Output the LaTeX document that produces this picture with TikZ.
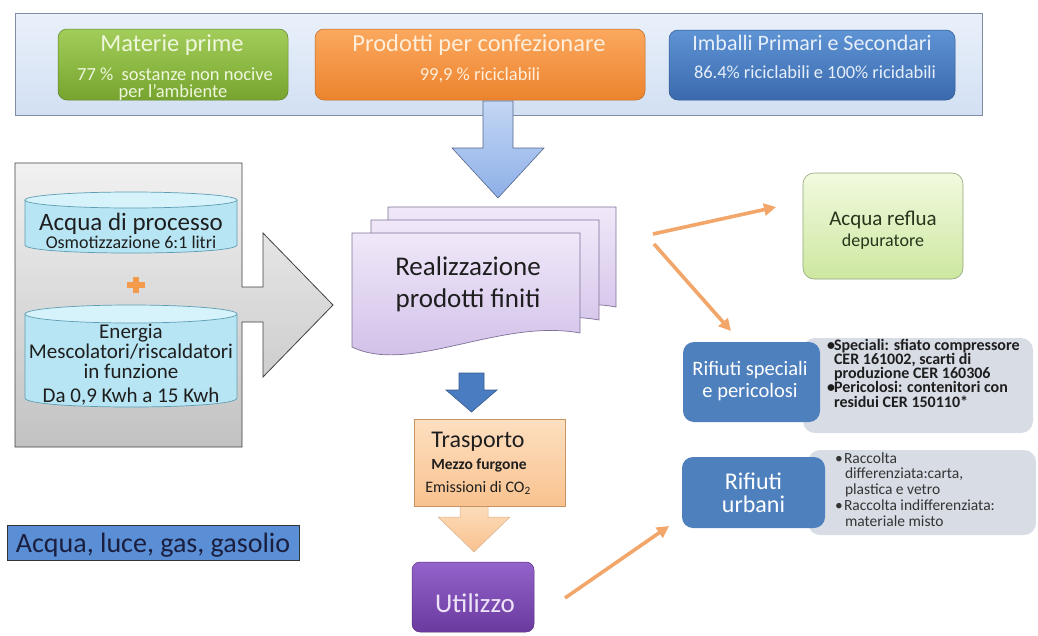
\documentclass[tikz,border=0pt]{standalone}
\usepackage{fontspec}
\setmainfont{Carlito}
\usetikzlibrary{arrows.meta}
\newcommand\fsz[1]{\fontsize{#1}{#1}\selectfont}

\definecolor{panelTop}{HTML}{E9F0FA}
\definecolor{panelBot}{HTML}{D2E0F3}
\definecolor{panelLine}{HTML}{7F8DA3}
\definecolor{grnTop}{HTML}{A3CD5A}
\definecolor{grnBot}{HTML}{76A42F}
\definecolor{grnText}{HTML}{EEF7DC}
\definecolor{orgTop}{HTML}{FBA85E}
\definecolor{orgBot}{HTML}{EC832E}
\definecolor{orgText}{HTML}{FFEEDA}
\definecolor{bluTop}{HTML}{5E93D4}
\definecolor{bluBot}{HTML}{3A6AAD}
\definecolor{bluText}{HTML}{E6EFFA}
\definecolor{arrTop}{HTML}{C4D7F5}
\definecolor{arrBot}{HTML}{8DAFE7}
\definecolor{arrLine}{HTML}{55678A}
\definecolor{greyTop}{HTML}{F1F1F1}
\definecolor{greyBot}{HTML}{C2C2C2}
\definecolor{cylBody}{HTML}{B8E5F3}
\definecolor{cylTop}{HTML}{D6F2FA}
\definecolor{cylLine}{HTML}{5E9DB3}
\definecolor{plusCol}{HTML}{F39A4C}
\definecolor{docTop}{HTML}{F0E8F9}
\definecolor{docBot}{HTML}{CDBBE6}
\definecolor{docLine}{HTML}{7E7097}
\definecolor{darkBlue}{HTML}{4A7CC1}
\definecolor{darkBlueLine}{HTML}{375C8C}
\definecolor{peachTop}{HTML}{FDDFC0}
\definecolor{peachBot}{HTML}{F9C28F}
\definecolor{peachLine}{HTML}{C69361}
\definecolor{violTop}{HTML}{9463CB}
\definecolor{violBot}{HTML}{6B3A9F}
\definecolor{violText}{HTML}{EDE3F7}
\definecolor{lgTop}{HTML}{F2FADF}
\definecolor{lgBot}{HTML}{CDE7A0}
\definecolor{lgLine}{HTML}{8FA477}
\definecolor{lgText}{HTML}{26361C}
\definecolor{wasteBlue}{HTML}{4E80BE}
\definecolor{wasteGrey}{HTML}{D7DCE5}
\definecolor{connCol}{HTML}{F2A66A}
\definecolor{tagBlue}{HTML}{5A8ED5}
\definecolor{tagText}{HTML}{1B1F3F}
\definecolor{inkCol}{HTML}{1E1E1E}

\begin{document}
\begin{tikzpicture}[x=1pt,y=-1pt,
  txt/.style={inner sep=0pt, outer sep=0pt, anchor=base},
  lefttxt/.style={inner sep=0pt, outer sep=0pt, anchor=base west},
  boxbase/.style={inner sep=0pt, outer sep=0pt},
  panel/.style={boxbase, draw=panelLine, line width=0.8pt, top color=panelTop, bottom color=panelBot},
  greentile/.style={boxbase, rounded corners=9pt, draw=grnBot!80!black, line width=0.5pt, top color=grnTop, bottom color=grnBot},
  orangetile/.style={boxbase, rounded corners=9pt, draw=orgBot!80!black, line width=0.5pt, top color=orgTop, bottom color=orgBot},
  bluetile/.style={boxbase, rounded corners=9pt, draw=bluBot!80!black, line width=0.5pt, top color=bluTop, bottom color=bluBot},
  blockarrow/.style={draw=arrLine, line width=0.6pt, top color=arrTop, bottom color=arrBot},
  greyshape/.style={draw=black!75, line width=0.8pt, top color=greyTop, bottom color=greyBot},
  cylfill/.style={fill=cylBody},
  cyledge/.style={draw=cylLine, line width=0.7pt},
  docsheet/.style={draw=docLine, line width=0.7pt, top color=docTop, bottom color=docBot},
  transbox/.style={boxbase, draw=peachLine, line width=0.6pt, top color=peachTop, bottom color=peachBot},
  usebox/.style={boxbase, rounded corners=8pt, draw=violBot!80!black, line width=0.5pt, top color=violTop, bottom color=violBot},
  wastebox/.style={boxbase, rounded corners=11pt, draw=lgLine, line width=0.6pt, top color=lgTop, bottom color=lgBot},
  wasteblue/.style={boxbase, rounded corners=11pt, fill=wasteBlue},
  wastegrey/.style={boxbase, rounded corners=12pt, fill=wasteGrey},
  tagbox/.style={boxbase, draw=black!80, line width=0.8pt, fill=tagBlue},
  conn/.style={draw=connCol, line width=3.6pt, -{Triangle[length=12pt,width=12pt]}}
]
\useasboundingbox (0,0) rectangle (1038,635);

% ---- supplies panel ----
\node[panel, minimum width=967pt, minimum height=102pt] (panel) at (498.5,64) {};

% big arrow from the supplies down to production
\path[blockarrow] (483,101) -- (513,101) -- (513,148) -- (544,148) -- (498,198)
  -- (452,148) -- (483,148) -- cycle;

\node[greentile, minimum width=230pt, minimum height=71pt] (materie) at (173,64.5) {};
\node[txt, text=grnText, font=\fsz{24.5}] (materieA) at (172,51) {Materie prime};
\node[txt, text=grnText, font=\fsz{18.5}] (materieB) at (175,80) {77 \%\ \ sostanze non nocive};
\node[txt, text=grnText, font=\fsz{18.5}] (materieC) at (173,97) {per l’ambiente};

\node[orangetile, minimum width=330pt, minimum height=71pt] (prodotti) at (480,64.5) {};
\node[txt, text=orgText, font=\fsz{24.5}] (prodottiA) at (479,51) {Prodotti per confezionare};
\node[txt, text=orgText, font=\fsz{18.5}] (prodottiB) at (480,80) {99,9 \% riciclabili};

\node[bluetile, minimum width=286pt, minimum height=70pt] (imballi) at (812,65) {};
\node[txt, text=bluText, font=\fsz{22}] (imballiA) at (812,50) {Imballi Primari e Secondari};
\node[txt, text=bluText, font=\fsz{18.4}] (imballiB) at (815,78.5) {86.4\% riciclabili e 100\% ricidabili};

% ---- resources block with its arrow ----
\path[greyshape] (15,163) -- (242,163) -- (242,287) -- (263,287) -- (263,233)
  -- (333,305) -- (263,377) -- (263,322) -- (242,322) -- (242,447) -- (15,447) -- cycle;

% process water cylinder
\fill[cylfill] (25,200) -- (25,245) .. controls (25,255.7) and (237,255.7) .. (237,245) -- (237,200) -- cycle;
\draw[cyledge] (25,200) -- (25,245) .. controls (25,255.7) and (237,255.7) .. (237,245) -- (237,200);
\filldraw[cyledge, fill=cylTop] (131,200) ellipse [x radius=106, y radius=8];
\node[txt, text=inkCol, font=\fsz{25}] (acquaA) at (131,230) {Acqua di processo};
\node[txt, text=inkCol, font=\fsz{18}] (acquaB) at (131,248) {Osmotizzazione 6:1 litri};

% plus sign
\fill[plusCol] (127,282) rectangle (145,288);
\fill[plusCol] (133,277) rectangle (139,293);

% energy cylinder
\fill[cylfill] (25,314) -- (25,398) .. controls (25,410) and (237,410) .. (237,398) -- (237,314) -- cycle;
\draw[cyledge] (25,314) -- (25,398) .. controls (25,410) and (237,410) .. (237,398) -- (237,314);
\filldraw[cyledge, fill=cylTop] (131,314) ellipse [x radius=106, y radius=9];
\node[txt, text=inkCol, font=\fsz{21}] (energiaA) at (131,338) {Energia};
\node[txt, text=inkCol, font=\fsz{21}] (energiaB) at (131,358) {Mescolatori/riscaldatori};
\node[txt, text=inkCol, font=\fsz{21}] (energiaC) at (131,378) {in funzione};
\node[txt, text=inkCol, font=\fsz{21}] (energiaD) at (131,402) {Da 0,9 Kwh a 15 Kwh};

% ---- production: stacked documents ----
\foreach \dx/\dy in {36/-26, 19/-13, 0/0} {
  \path[docsheet, shift={(\dx,\dy)}] (352,233) -- (580,233) -- (580,333)
    .. controls (500,318) and (410,375) .. (352,347) -- cycle;
}
\node[txt, text=inkCol, font=\fsz{27}] (realA) at (468,275) {Realizzazione};
\node[txt, text=inkCol, font=\fsz{27}] (realB) at (468,307) {prodotti finiti};

% small arrow to transport
\path[draw=darkBlueLine, line width=0.6pt, fill=darkBlue] (459,373) -- (484,373) -- (484,390)
  -- (497,390) -- (471.5,412) -- (446,390) -- (459,390) -- cycle;

% arrow from transport to use
\path[draw=peachLine!70, line width=0.5pt, top color=peachTop, bottom color=peachBot]
  (460,500) -- (488,500) -- (488,517) -- (510,517) -- (474,552) -- (438,517) -- (460,517) -- cycle;

\node[transbox, minimum width=151pt, minimum height=87pt] (trasporto) at (489.5,462.5) {};
\node[txt, text=inkCol, font=\fsz{24}] (trasportoA) at (478,447) {Trasporto};
\node[txt, text=inkCol, font=\bfseries\fsz{15.5}] (trasportoB) at (479,469) {Mezzo furgone};
\node[txt, text=inkCol, font=\fsz{16}] (trasportoC) at (478,492) {Emissioni di CO\textsubscript{2}};

\node[usebox, minimum width=122pt, minimum height=70pt] (utilizzo) at (473,597) {};
\node[txt, text=violText, font=\fsz{27}] (utilizzoA) at (475,612) {Utilizzo};

% ---- outputs ----
\node[wastebox, minimum width=160pt, minimum height=106pt] (reflua) at (883,226) {};
\node[txt, text=lgText, font=\fsz{21}] (refluaA) at (883,225) {Acqua reflua};
\node[txt, text=lgText, font=\fsz{18}] (refluaB) at (883,246) {depuratore};

\node[wastegrey, minimum width=230pt, minimum height=95pt] (specialiInfo) at (918,385.5) {};
\node[wasteblue, minimum width=137pt, minimum height=80pt] (speciali) at (751.5,382) {};
\node[txt, text=white, font=\fsz{20.5}] (specialiA) at (750,375) {Rifiuti speciali};
\node[txt, text=white, font=\fsz{20.5}] (specialiB) at (750,397) {e pericolosi};
\begin{scope}[every node/.style={lefttxt, text=inkCol, font=\bfseries\fsz{16}}]
  \node (sp1) at (827,350) {\makebox[7pt][l]{•}Speciali: sfiato compressore};
  \node (sp2) at (834,364.3) {CER 161002, scarti di};
  \node (sp3) at (834,378.6) {produzione CER 160306};
  \node (sp4) at (827,392.9) {\makebox[7pt][l]{•}Pericolosi: contenitori con};
  \node (sp5) at (834,407.2) {residui CER 150110*};
\end{scope}

\node[wastegrey, minimum width=228pt, minimum height=85pt] (urbaniInfo) at (922,492.5) {};
\node[wasteblue, minimum width=143pt, minimum height=71pt] (urbani) at (753.5,492.5) {};
\node[txt, text=white, font=\fsz{24}] (urbaniA) at (753.5,489) {Rifiuti};
\node[txt, text=white, font=\fsz{24}] (urbaniB) at (753.5,512) {urbani};
\begin{scope}[every node/.style={lefttxt, text=inkCol!90, font=\fsz{15.5}}]
  \node (ur1) at (835,463) {\makebox[9pt][l]{•}Raccolta};
  \node (ur2) at (845,478.5) {differenziata:carta,};
  \node (ur3) at (845,494) {plastica e vetro};
  \node (ur4) at (835,510.5) {\makebox[9pt][l]{•}Raccolta indifferenziata:};
  \node (ur5) at (845,526) {materiale misto};
\end{scope}

% utilities tag
\node[tagbox, minimum width=292pt, minimum height=35pt] (utenze) at (153,542.5) {};
\node[txt, text=tagText, font=\fsz{28}] (utenzeA) at (153,552) {Acqua, luce, gas, gasolio};

% ---- orange connectors ----
\coordinate (c1s) at (653,234);
\coordinate (c1e) at (776,207);
\coordinate (c2s) at (654,244);
\coordinate (c2e) at (731,331);
\coordinate (c3s) at (565,598);
\coordinate (c3e) at (669,526);
\draw[conn] (c1s) -- (c1e);
\draw[conn] (c2s) -- (c2e);
\draw[conn] (c3s) -- (c3e);
\end{tikzpicture}
\end{document}
